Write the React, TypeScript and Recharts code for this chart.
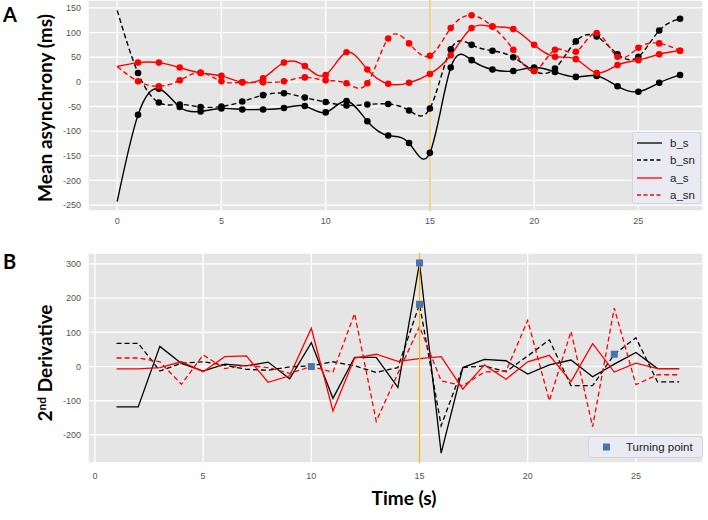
import React from "react";
import {
  LineChart,
  Line,
  XAxis,
  YAxis,
  CartesianGrid,
  ReferenceLine,
  ReferenceDot,
} from "recharts";

// panel A: mean asynchrony per second
const timeA = [0, 1, 2, 3, 4, 5, 6, 7, 8, 9, 10, 11, 12, 13, 14, 15, 16, 17, 18, 19, 20, 21, 22, 23, 24, 25, 26, 27];
const bS = [-243, -67, -14, -51, -60, -54, -56, -56, -53, -49, -62, -39, -80, -109, -124, -144, 29, 44, 25, 22, 29, 20, 10, 12, -9, -20, -2, 14];
const bSn = [145, 18, -42, -46, -51, -50, -40, -27, -23, -32, -41, -48, -46, -45, -58, -54, 66, 75, 63, 50, 22, 27, 82, 92, 56, 51, 104, 128];
const aS = [31, 39, 39, 29, 18, 12, -1, 7, 39, 32, 14, 60, 25, -4, -2, 16, 54, 109, 112, 107, 75, 51, 46, 18, 34, 44, 56, 63];
const aSn = [31, 1, -9, 3, 19, 1, -1, -1, 1, 9, 3, -3, -3, 88, 78, 53, 109, 135, 112, 65, 22, 65, 61, 99, 51, 69, 78, 63];

// panel B: 2nd derivative
const timeB = [1, 2, 3, 4, 5, 6, 7, 8, 9, 10, 11, 12, 13, 14, 15, 16, 17, 18, 19, 20, 21, 22, 23, 24, 25, 26, 27];
const dbS = [-118, -118, 59, 9, -13, 7, 2, 13, -36, 70, -93, 27, 27, -61, 303, -253, -3, 21, 17, -22, 5, 19, -30, 7, 41, -6, -6];
const dbSn = [68, 68, -13, 10, 14, 4, -8, -11, -1, 2, 14, 2, -17, -3, 182, -173, -3, 2, -15, 31, 78, -56, -56, 36, 84, -45, -45];
const daS = [-7, -7, -3, 14, -15, 29, 31, -46, -27, 112, -130, 25, 36, 15, 23, 29, -66, 5, -37, 14, 33, -44, 67, -16, 10, -6, -6];
const daSn = [25, 25, 14, -52, 34, -6, 4, -3, -20, 0, -16, 155, -160, -20, 117, -42, -56, -16, -13, 135, -100, 103, -176, 171, -53, -24, -24];

const turnT = [10, 15, 15, 24];
const turnV = [0, 303, 182, 36];

const xTicks = [0, 5, 10, 15, 20, 25];
const yTicksA = [-250, -200, -150, -100, -50, 0, 50, 100, 150];
const yTicksB = [-200, -100, 0, 100, 200, 300];

const dataA = timeA.map((t, i) => ({ t, b_s: bS[i], b_sn: bSn[i], a_s: aS[i], a_sn: aSn[i] }));
const dataB = timeB.map((t, i) => ({ t, b_s: dbS[i], b_sn: dbSn[i], a_s: daS[i], a_sn: daSn[i] }));

const series = [
  { key: "b_s", color: "#000000", dash: undefined, legendColor: "#555555" },
  { key: "b_sn", color: "#000000", dash: "5 3", legendColor: "#000000" },
  { key: "a_s", color: "#ff0000", dash: undefined, legendColor: "#ff0000" },
  { key: "a_sn", color: "#ff0000", dash: "5 3", legendColor: "#ff0000" },
];

const tickStyle = { fontSize: 9, fill: "#555", fontFamily: '"Liberation Sans", Arial, sans-serif' };

const dotFor = (color: string) => (props: any) => {
  const { cx, cy, index } = props;
  if (index === 0 || cx == null || cy == null) return <g key={`d-${index}`} />;
  return <circle key={`d-${index}`} cx={cx} cy={cy} r={3.3} fill={color} />;
};

const square = (p: any) => (
  <rect x={p.cx - 3.5} y={p.cy - 3.5} width={7} height={7} fill="#4c72b0" />
);

const titleStyle: React.CSSProperties = {
  position: "absolute",
  fontFamily: "Lato, sans-serif",
  fontWeight: 700,
  fontSize: 19,
  color: "#000",
  whiteSpace: "nowrap",
};

export default function App() {
  return (
    <div style={{ position: "absolute", left: 0, top: 0, width: 708, height: 520, background: "#fff", fontFamily: '"Liberation Sans", Arial, sans-serif' }}>
      <div style={{ position: "absolute", left: 0, top: 0 }}>
        <LineChart width={708} height={231} data={dataA} margin={{ top: 0, right: 5, bottom: 0, left: 28 }}>
          <CartesianGrid stroke="#ffffff" strokeWidth={1.3} fill="#e5e5e5" />
          <XAxis dataKey="t" type="number" domain={[-1.4, 28.1]} ticks={xTicks} allowDataOverflow
            tickLine={false} axisLine={false} tickSize={0} tickMargin={7} height={20} tick={tickStyle} />
          <YAxis type="number" domain={[-262, 166]} ticks={yTicksA} allowDataOverflow
            tickLine={false} axisLine={false} tickSize={0} tickMargin={7} width={60} tick={tickStyle} />
          <ReferenceLine x={15} stroke="#f3cf8e" strokeWidth={1.8} />
          {series.map((s) => (
            <Line key={s.key} dataKey={s.key} type="natural" stroke={s.color} strokeWidth={1.4}
              strokeDasharray={s.dash} dot={dotFor(s.color)} activeDot={false} isAnimationActive={false} />
          ))}
        </LineChart>
      </div>

      <div style={{ position: "absolute", left: 0, top: 253 }}>
        <LineChart width={708} height={235} data={dataB} margin={{ top: 0, right: 5, bottom: 0, left: 28 }}>
          <CartesianGrid stroke="#ffffff" strokeWidth={1.3} fill="#e5e5e5" />
          <XAxis dataKey="t" type="number" domain={[-0.32, 28.1]} ticks={xTicks} allowDataOverflow
            tickLine={false} axisLine={false} tickSize={0} tickMargin={10} height={25} tick={tickStyle} />
          <YAxis type="number" domain={[-282, 332]} ticks={yTicksB} allowDataOverflow
            tickLine={false} axisLine={false} tickSize={0} tickMargin={7} width={60} tick={tickStyle} />
          {series.map((s) => (
            <Line key={s.key} dataKey={s.key} type="linear" stroke={s.color} strokeWidth={1.3}
              strokeDasharray={s.dash} dot={false} activeDot={false} isAnimationActive={false} />
          ))}
          <ReferenceLine x={15} stroke="#f7b500" strokeWidth={1.2} strokeOpacity={1} />
          {turnT.map((t, i) => (
            <ReferenceDot key={i} x={t} y={turnV[i]} r={3.5} fill="#4c72b0" stroke="none" shape={square} />
          ))}
        </LineChart>
      </div>

      {/* legend A */}
      <div style={{ position: "absolute", left: 632, top: 132, width: 69, height: 72, background: "#eaeaf2", border: "1px solid #d4d4dc", borderRadius: 3, boxSizing: "border-box" }}>
        {series.map((s, i) => (
          <div key={s.key} style={{ position: "absolute", left: 3, top: 3 + i * 17.3, height: 14, display: "flex", alignItems: "center" }}>
            <svg width={28} height={10}>
              <line x1={1} y1={5} x2={26} y2={5} stroke={s.legendColor} strokeWidth={s.key === "b_s" ? 2 : 1.3} strokeDasharray={s.dash ? "4 2.5" : undefined} />
            </svg>
            <span style={{ marginLeft: 6, fontSize: 11.5, color: "#222" }}>{s.key}</span>
          </div>
        ))}
      </div>

      {/* legend B */}
      <div style={{ position: "absolute", left: 588, top: 436, width: 115, height: 22, background: "#eaeaf2", border: "1px solid #d4d4dc", borderRadius: 3, boxSizing: "border-box", display: "flex", alignItems: "center" }}>
        <svg width={30} height={10} style={{ marginLeft: 4 }}>
          <rect x={10} y={1.5} width={7} height={7} fill="#4c72b0" />
        </svg>
        <span style={{ marginLeft: 3, fontSize: 11.5, color: "#222" }}>Turning point</span>
      </div>

      {/* titles */}
      <div style={{ ...titleStyle, left: 3, top: 2, fontSize: 20 }}>A</div>
      <div style={{ ...titleStyle, left: 3, top: 249, fontSize: 20 }}>B</div>
      <div style={{ ...titleStyle, left: 44, top: 108, transform: "translate(-50%, -50%) rotate(-90deg)" }}>
        Mean asynchrony (ms)
      </div>
      <div style={{ ...titleStyle, left: 44, top: 363, transform: "translate(-50%, -50%) rotate(-90deg)" }}>
        2<sup style={{ fontSize: 12, verticalAlign: "6px", lineHeight: 0 }}>nd</sup> Derivative
      </div>
      <div style={{ ...titleStyle, left: 404, top: 497, transform: "translate(-50%, -50%)" }}>Time (s)</div>
    </div>
  );
}
